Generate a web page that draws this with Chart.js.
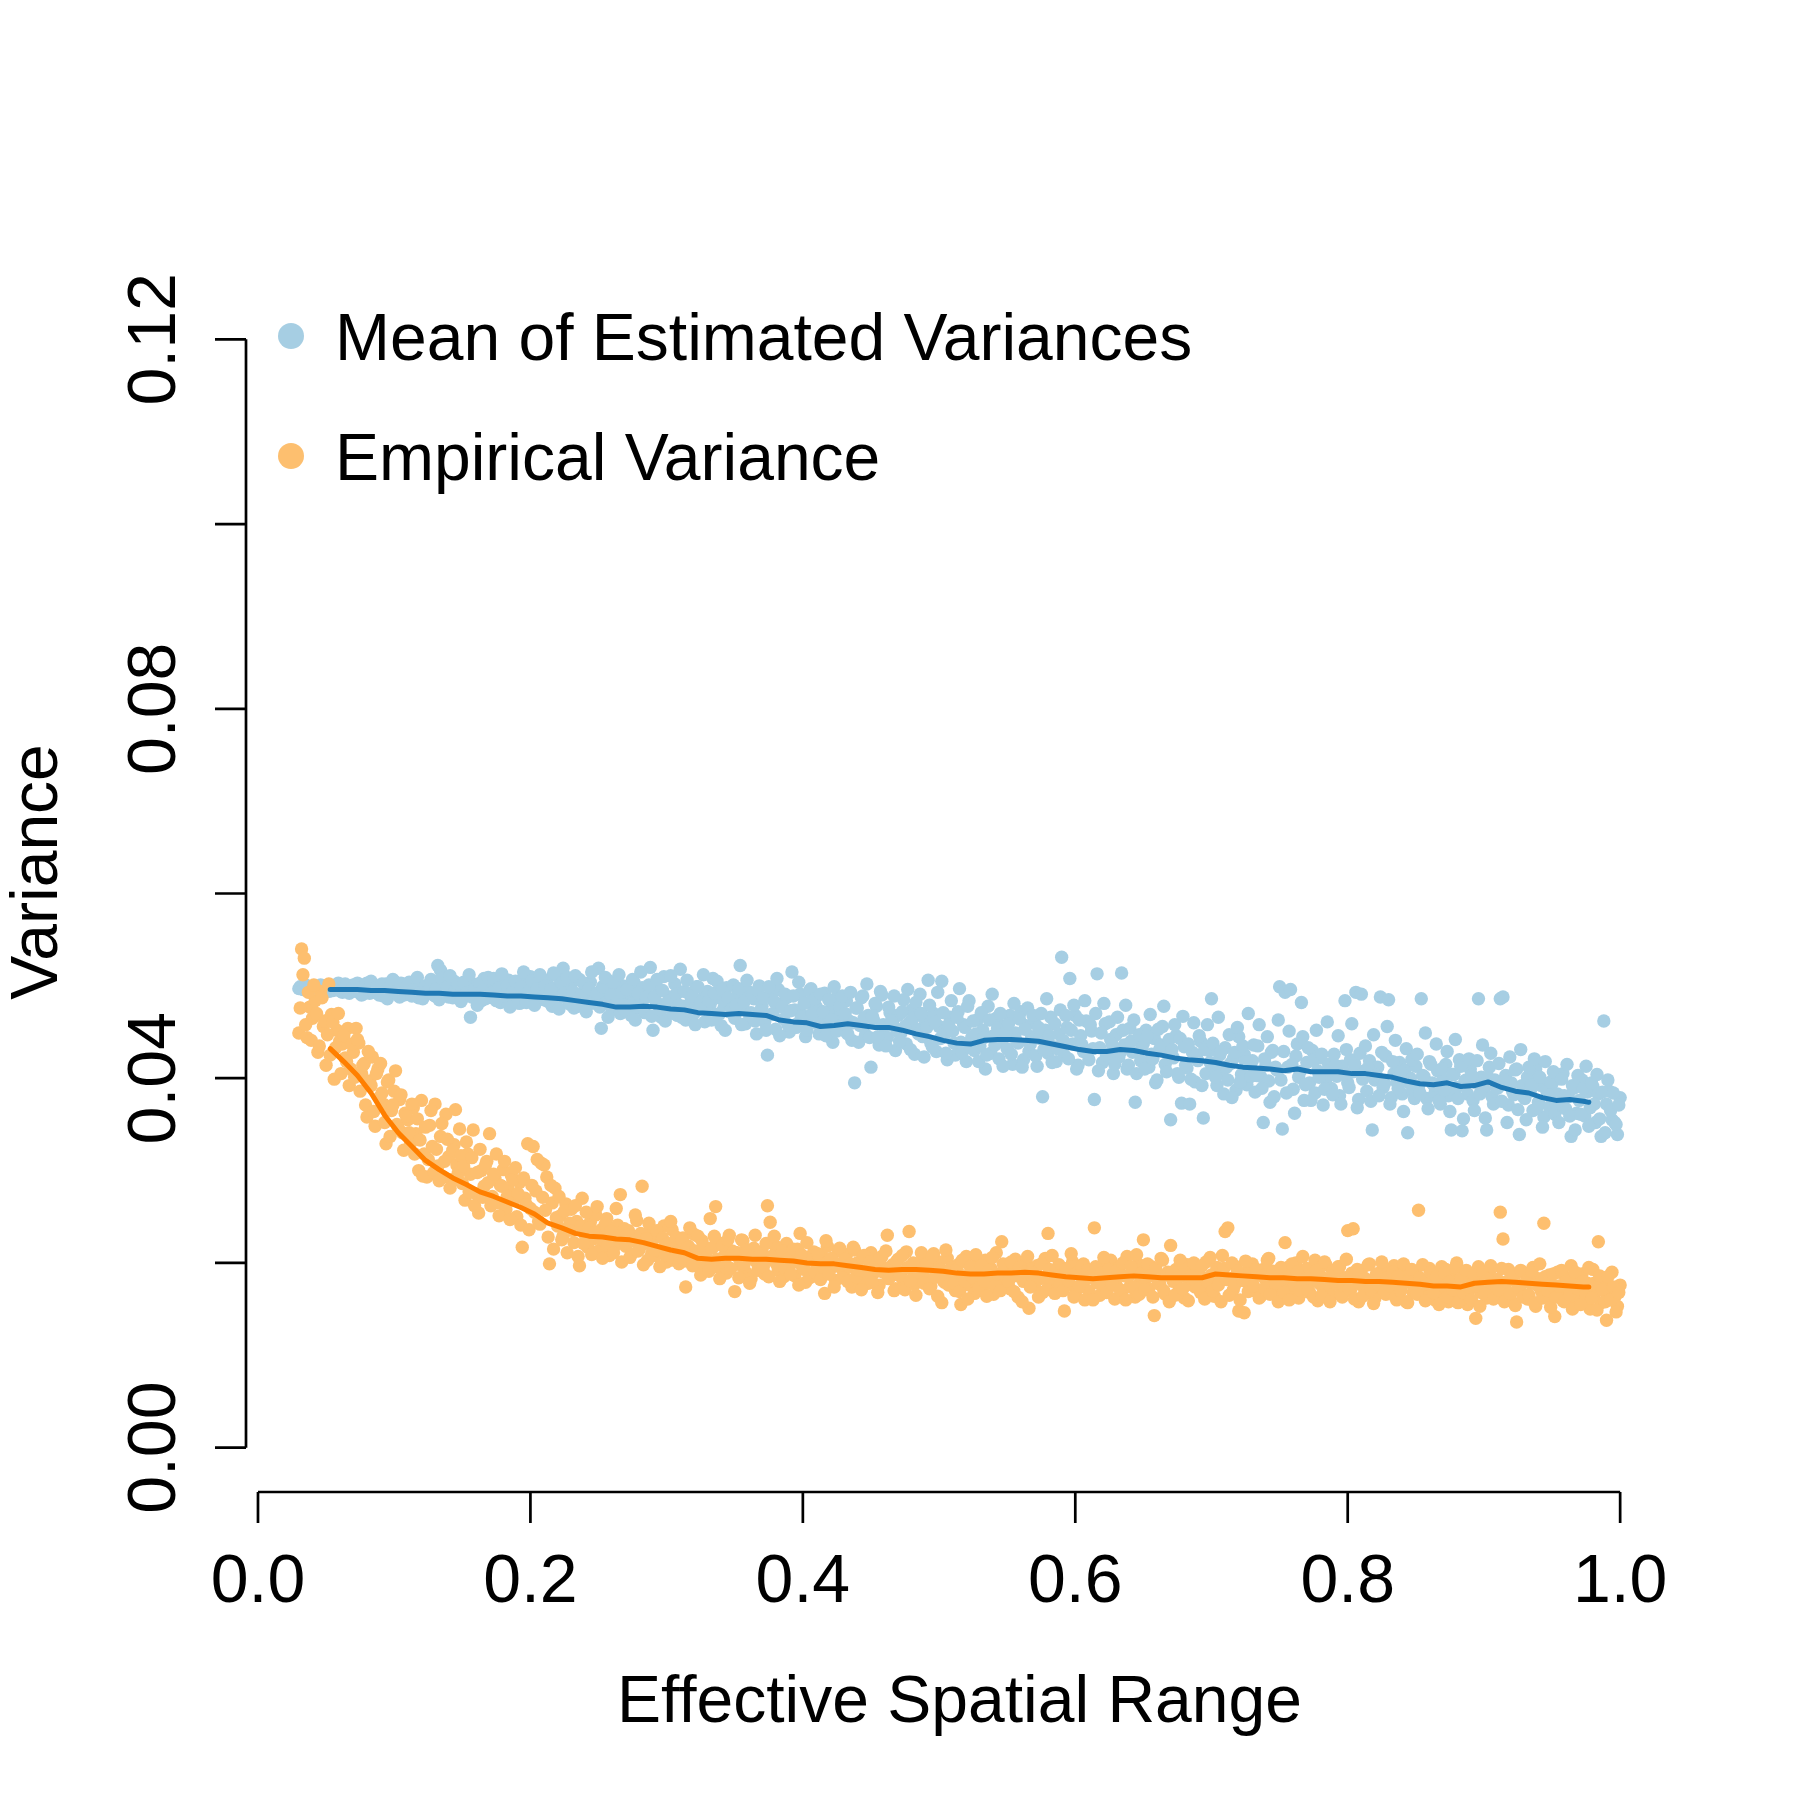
<!DOCTYPE html>
<html>
<head>
<meta charset="utf-8">
<script src="https://cdn.jsdelivr.net/npm/chart.js@4.4.1/dist/chart.umd.min.js"></script>
<style>
  html, body { margin: 0; padding: 0; background: #ffffff; }
  canvas { display: block; }
</style>
</head>
<body>
<canvas id="varianceChart" width="1800" height="1800"></canvas>
<script>
// Effective spatial range grid, even steps (in thousandths)
const xGrid = [
  30,32,34,36,38,40,42,44,46,48,
  50,52,54,56,58,60,62,64,66,68,
  70,72,74,76,78,80,82,84,86,88,
  90,92,94,96,98,100,102,104,106,108,
  110,112,114,116,118,120,122,124,126,128,
  130,132,134,136,138,140,142,144,146,148,
  150,152,154,156,158,160,162,164,166,168,
  170,172,174,176,178,180,182,184,186,188,
  190,192,194,196,198,200,202,204,206,208,
  210,212,214,216,218,220,222,224,226,228,
  230,232,234,236,238,240,242,244,246,248,
  250,252,254,256,258,260,262,264,266,268,
  270,272,274,276,278,280,282,284,286,288,
  290,292,294,296,298,300,302,304,306,308,
  310,312,314,316,318,320,322,324,326,328,
  330,332,334,336,338,340,342,344,346,348,
  350,352,354,356,358,360,362,364,366,368,
  370,372,374,376,378,380,382,384,386,388,
  390,392,394,396,398,400,402,404,406,408,
  410,412,414,416,418,420,422,424,426,428,
  430,432,434,436,438,440,442,444,446,448,
  450,452,454,456,458,460,462,464,466,468,
  470,472,474,476,478,480,482,484,486,488,
  490,492,494,496,498,500,502,504,506,508,
  510,512,514,516,518,520,522,524,526,528,
  530,532,534,536,538,540,542,544,546,548,
  550,552,554,556,558,560,562,564,566,568,
  570,572,574,576,578,580,582,584,586,588,
  590,592,594,596,598,600,602,604,606,608,
  610,612,614,616,618,620,622,624,626,628,
  630,632,634,636,638,640,642,644,646,648,
  650,652,654,656,658,660,662,664,666,668,
  670,672,674,676,678,680,682,684,686,688,
  690,692,694,696,698,700,702,704,706,708,
  710,712,714,716,718,720,722,724,726,728,
  730,732,734,736,738,740,742,744,746,748,
  750,752,754,756,758,760,762,764,766,768,
  770,772,774,776,778,780,782,784,786,788,
  790,792,794,796,798,800,802,804,806,808,
  810,812,814,816,818,820,822,824,826,828,
  830,832,834,836,838,840,842,844,846,848,
  850,852,854,856,858,860,862,864,866,868,
  870,872,874,876,878,880,882,884,886,888,
  890,892,894,896,898,900,902,904,906,908,
  910,912,914,916,918,920,922,924,926,928,
  930,932,934,936,938,940,942,944,946,948,
  950,952,954,956,958,960,962,964,966,968,
  970,972,974,976,978,980,982,984,986,988,
  990,992,994,996,998,1000
];

// Odd steps of the same grid (in thousandths)
const xGridOdd = [
  31,33,35,37,39,41,43,45,47,49,
  51,53,55,57,59,61,63,65,67,69,
  71,73,75,77,79,81,83,85,87,89,
  91,93,95,97,99,101,103,105,107,109,
  111,113,115,117,119,121,123,125,127,129,
  131,133,135,137,139,141,143,145,147,149,
  151,153,155,157,159,161,163,165,167,169,
  171,173,175,177,179,181,183,185,187,189,
  191,193,195,197,199,201,203,205,207,209,
  211,213,215,217,219,221,223,225,227,229,
  231,233,235,237,239,241,243,245,247,249,
  251,253,255,257,259,261,263,265,267,269,
  271,273,275,277,279,281,283,285,287,289,
  291,293,295,297,299,301,303,305,307,309,
  311,313,315,317,319,321,323,325,327,329,
  331,333,335,337,339,341,343,345,347,349,
  351,353,355,357,359,361,363,365,367,369,
  371,373,375,377,379,381,383,385,387,389,
  391,393,395,397,399,401,403,405,407,409,
  411,413,415,417,419,421,423,425,427,429,
  431,433,435,437,439,441,443,445,447,449,
  451,453,455,457,459,461,463,465,467,469,
  471,473,475,477,479,481,483,485,487,489,
  491,493,495,497,499,501,503,505,507,509,
  511,513,515,517,519,521,523,525,527,529,
  531,533,535,537,539,541,543,545,547,549,
  551,553,555,557,559,561,563,565,567,569,
  571,573,575,577,579,581,583,585,587,589,
  591,593,595,597,599,601,603,605,607,609,
  611,613,615,617,619,621,623,625,627,629,
  631,633,635,637,639,641,643,645,647,649,
  651,653,655,657,659,661,663,665,667,669,
  671,673,675,677,679,681,683,685,687,689,
  691,693,695,697,699,701,703,705,707,709,
  711,713,715,717,719,721,723,725,727,729,
  731,733,735,737,739,741,743,745,747,749,
  751,753,755,757,759,761,763,765,767,769,
  771,773,775,777,779,781,783,785,787,789,
  791,793,795,797,799,801,803,805,807,809,
  811,813,815,817,819,821,823,825,827,829,
  831,833,835,837,839,841,843,845,847,849,
  851,853,855,857,859,861,863,865,867,869,
  871,873,875,877,879,881,883,885,887,889,
  891,893,895,897,899,901,903,905,907,909,
  911,913,915,917,919,921,923,925,927,929,
  931,933,935,937,939,941,943,945,947,949,
  951,953,955,957,959,961,963,965,967,969,
  971,973,975,977,979,981,983,985,987,989,
  991,993,995,997,999
];

// Mean of estimated variances on xGrid (x 1e-4)
const meanEstVar = [
  497,499,496,500,498,495,499,497,501,496,
  498,494,500,497,496,499,493,502,495,498,
  501,494,497,490,499,503,492,496,500,494,
  498,489,502,495,493,505,497,488,499,494,
  491,500,496,506,487,495,499,492,497,503,
  489,522,517,494,500,488,496,505,491,497,
  486,499,494,466,502,490,497,484,508,493,
  500,487,495,504,482,497,491,506,489,494,
  499,481,503,492,487,510,495,484,500,490,
  485,506,493,478,498,511,488,519,495,483,
  502,476,491,507,486,497,479,504,489,481,
  519,454,492,483,505,474,496,486,470,500,
  481,493,468,504,487,476,498,471,489,520,
  452,484,497,466,510,479,488,473,502,468,
  518,478,463,492,483,470,499,475,486,461,
  494,480,508,469,487,457,476,498,472,483,
  465,490,522,477,459,494,471,486,448,500,
  478,461,425,489,470,453,496,480,464,487,
  450,515,474,459,491,468,445,482,497,461,
  477,448,466,492,455,473,439,486,460,470,
  452,484,462,441,395,476,457,489,447,468,
  412,463,478,436,490,455,444,471,459,430,
  468,449,485,437,460,474,426,453,491,445,
  462,506,438,470,429,456,505,447,420,466,
  451,425,472,439,458,418,484,444,430,463,
  435,452,410,478,427,446,465,421,441,457,
  432,468,415,449,438,472,420,457,429,445,
  461,413,443,380,452,427,466,434,418,448,
  531,425,455,508,437,468,414,446,429,462,
  420,451,377,513,433,417,459,426,442,405,
  447,423,514,436,410,454,428,374,441,419,
  438,452,412,426,443,398,431,456,415,427,
  355,422,446,401,373,434,411,372,428,396,
  419,440,357,405,430,486,412,392,425,408,
  433,398,416,421,387,445,404,426,393,411,
  419,385,435,402,352,414,397,428,380,409,
  499,345,493,412,496,388,424,401,482,376,
  417,395,430,384,408,422,371,399,415,389,
  426,402,381,413,484,395,420,407,493,377,
  491,408,386,419,344,398,412,488,390,424,
  485,379,405,396,417,383,409,341,400,386,
  413,391,486,402,378,418,395,384,408,372,
  399,415,381,344,404,390,420,343,397,383,
  410,376,395,486,401,388,344,412,380,398,
  389,486,488,403,371,395,382,410,339,392,
  378,401,386,365,410,374,392,358,387,369,
  394,361,383,371,405,367,380,337,389,362,
  376,398,359,385,368,391,352,383,337,462,
  372,386,355,352,339,379
];

// Mean of estimated variances on xGridOdd (x 1e-4)
const meanEstVarOdd = [
  499,496,501,498,494,500,497,499,495,500,
  497,501,495,499,503,494,498,500,492,497,
  495,503,498,491,501,496,505,493,498,490,
  502,494,486,499,507,492,496,503,490,498,
  504,489,497,509,493,486,500,495,507,490,
  497,485,508,492,499,511,487,496,502,483,
  504,492,512,488,497,479,503,495,486,509,
  492,508,484,498,513,489,500,477,494,505,
  486,499,515,482,494,505,479,497,512,488,
  500,483,496,514,487,475,503,492,509,480,
  494,511,478,489,503,472,497,515,484,492,
  477,499,509,466,490,504,481,512,493,474,
  496,479,507,463,492,515,476,488,501,467,
  488,507,474,495,462,483,511,470,491,479,
  466,494,506,473,489,458,499,482,512,476,
  484,463,492,505,470,496,452,487,474,501,
  479,497,458,483,506,468,490,462,495,473,
  487,452,499,469,483,508,446,477,491,458,
  473,489,455,504,466,481,452,495,470,486,
  459,491,472,446,485,463,499,451,478,489,
  470,448,493,460,476,439,487,465,502,444,
  467,481,445,494,458,435,477,462,489,451,
  440,472,456,496,431,465,482,448,470,423,
  455,479,434,461,493,443,471,427,458,484,
  438,466,497,428,455,478,433,462,448,418,
  471,444,425,463,491,436,454,470,413,450,
  459,426,481,440,464,412,453,476,437,468,
  424,455,470,431,486,446,417,459,432,474,
  441,468,421,452,479,410,463,436,484,427,
  458,432,470,408,449,481,425,461,437,415,
  466,428,452,479,414,440,463,405,447,433,
  410,446,469,421,395,453,436,478,407,442,
  431,458,405,443,467,414,437,399,460,424,
  446,392,431,458,417,438,401,466,429,383,
  412,447,379,428,455,396,435,418,470,402,
  436,403,458,389,421,445,374,430,412,463,
  398,429,384,451,415,362,437,407,445,393,
  433,376,419,452,401,426,388,461,409,382,
  414,446,372,405,431,390,459,416,368,427,
  399,435,411,375,447,403,381,428,394,456,
  372,418,441,389,407,364,432,395,420,378,
  426,384,403,449,367,415,393,437,376,410,
  387,429,364,404,442,378,413,356,398,421,
  403,365,419,383,436,357,401,427,372,390,
  416,375,398,352,423,386,409,366,431,380,
  355,412,393,421,368,401,347,418,382,396,
  407,373,352,399,381,415,359,392,344,403,
  361,389,413,348,395,372,404,356,385,341,
  398,365,384,350,371
];

// Empirical variance on xGrid (x 1e-4)
const empiricalVar = [
  449,540,530,444,477,465,484,428,494,456,
  414,502,469,399,452,440,437,422,454,410,
  428,454,438,405,416,358,397,423,348,410,
  416,372,329,398,365,386,350,377,341,362,
  355,330,368,340,300,376,318,293,349,326,
  372,305,337,293,361,315,290,328,306,345,
  286,268,318,296,344,275,254,300,283,310,
  340,272,292,265,284,301,258,279,295,268,
  250,287,217,270,329,259,326,278,245,308,
  306,293,199,265,281,240,251,229,264,238,
  258,222,245,197,270,231,217,244,226,252,
  213,236,224,248,208,230,219,241,274,226,
  218,235,209,228,246,215,283,221,203,237,
  225,208,231,214,240,201,219,236,205,222,
  212,227,174,218,203,231,209,196,224,213,
  200,248,217,261,195,221,207,189,230,213,
  169,211,198,224,190,207,183,216,201,195,
  212,188,262,244,203,218,192,209,185,221,
  197,210,186,215,232,194,179,206,188,212,
  199,184,207,167,218,193,202,181,213,195,
  187,209,196,174,214,200,183,206,191,178,
  211,189,201,176,207,194,230,185,198,172,
  204,190,180,212,234,193,177,199,186,208,
  183,196,175,210,188,201,157,179,205,192,
  184,170,198,155,186,207,176,191,167,200,
  189,173,203,181,194,166,211,185,223,178,
  196,172,188,204,163,192,180,199,151,186,
  175,197,183,168,205,232,179,190,171,198,
  186,148,194,177,201,166,188,174,199,183,
  170,192,238,179,165,197,184,172,203,187,
  176,195,168,186,207,174,191,163,199,181,
  225,184,172,196,143,188,177,203,166,190,
  219,180,193,170,186,162,198,177,189,174,
  192,168,184,201,175,187,164,195,180,208,
  234,238,183,171,196,148,185,146,190,176,
  199,170,187,164,193,181,205,173,189,167,
  186,174,222,195,169,183,200,162,188,177,
  194,168,181,203,159,186,172,198,176,165,
  189,177,196,163,184,235,170,237,181,158,
  192,174,167,199,180,162,188,173,195,166,
  183,171,197,160,185,176,192,157,179,168,
  188,257,172,181,163,194,175,160,186,170,
  178,193,158,183,169,200,161,176,187,155,
  172,184,140,196,168,179,162,190,174,165,
  182,255,226,170,193,159,185,136,176,167,
  189,161,178,195,153,183,170,243,164,187,
  176,142,190,168,159,184,171,197,155,180,
  166,188,161,178,150,193,169,223,157,182,
  138,171,190,163,153,176
];

// Empirical variance on xGridOdd (x 1e-4)
const empiricalVarOdd = [
  476,512,458,493,441,501,470,435,487,462,
  447,425,461,433,470,405,446,418,392,437,
  401,442,386,414,371,429,392,364,405,379,
  384,352,396,337,371,408,346,382,322,359,
  341,372,318,356,333,294,347,312,365,298,
  323,289,351,310,334,281,322,366,297,316,
  305,331,277,314,262,298,323,271,306,287,
  262,296,318,251,283,310,272,247,290,303,
  275,241,292,263,236,284,255,312,242,271,
  257,228,284,215,249,272,225,256,211,243,
  235,262,207,240,221,255,238,209,233,261,
  226,205,242,219,234,211,259,228,201,237,
  230,206,224,252,213,232,198,226,243,210,
  214,235,196,227,209,221,245,203,228,199,
  225,202,216,238,197,213,229,187,218,206,
  191,216,229,204,183,219,200,225,194,212,
  208,184,225,199,214,178,206,230,192,211,
  196,221,185,207,229,198,180,213,194,204,
  188,215,201,176,209,193,222,184,203,190,
  210,182,196,224,188,205,174,198,216,184,
  204,180,199,217,185,192,171,208,189,201,
  179,197,168,205,190,213,183,196,170,202,
  186,208,171,195,181,200,165,190,211,178,
  199,172,207,185,164,193,181,214,176,195,
  178,193,169,203,180,161,196,184,209,173,
  197,180,164,192,206,175,188,170,199,185,
  180,201,169,186,195,158,190,207,174,193,
  190,163,199,184,171,193,208,167,186,177,
  170,193,181,210,163,189,175,196,160,192,
  185,160,196,178,189,206,168,193,177,161,
  192,171,200,160,185,196,174,209,166,189,
  171,199,186,163,194,178,205,170,187,158,
  190,165,184,203,172,193,159,186,200,178,
  172,197,161,180,206,170,189,176,158,194,
  182,165,200,176,191,160,181,202,169,188,
  175,193,162,186,172,203,166,191,178,158,
  195,168,184,160,199,176,190,171,207,182,
  170,187,163,192,178,164,201,183,158,191,
  180,196,166,175,204,172,189,161,193,177,
  164,183,198,171,156,188,176,201,168,184,
  175,190,163,186,170,199,158,181,193,172,
  166,184,198,159,177,190,168,185,155,196,
  189,163,180,171,195,157,183,168,192,174,
  160,187,175,153,191,166,182,197,161,178,
  171,194,158,180,167,188,154,174,192,163,
  180,165,191,157,176,199,162,185,170,152,
  188,163,175,192,158,181,166,150,190,172,
  155,180,167,195,162,178,149,186,171,158,
  185,160,174,147,168
];

// Smoothed curves (x in thousandths, y x 1e-4)
const smoothX = [
  53,63,73,83,93,103,113,123,133,143,
  153,163,173,183,193,203,213,223,233,243,
  253,263,273,283,293,303,313,323,333,343,
  353,363,373,383,393,403,413,423,433,443,
  453,463,473,483,493,503,513,523,533,543,
  553,563,573,583,593,603,613,623,633,643,
  653,663,673,683,693,703,713,723,733,743,
  753,763,773,783,793,803,813,823,833,843,
  853,863,873,883,893,903,913,923,933,943,
  953,963,973,977
];
const meanEstSmooth = [
  496,496,496,495,495,494,493,492,492,491,
  491,491,490,489,489,488,487,486,484,482,
  480,477,477,478,477,475,474,471,470,469,
  470,469,468,463,461,460,456,457,459,457,
  455,455,452,448,445,441,438,437,441,442,
  442,441,440,437,434,431,429,429,431,430,
  427,425,422,420,419,417,414,412,411,410,
  408,410,407,407,407,405,405,403,401,397,
  394,393,395,391,392,396,390,386,384,379,
  376,377,375,374
];
const empiricalSmooth = [
  432,418,403,384,360,341,326,311,301,292,
  285,277,272,266,260,253,243,238,232,229,
  228,226,225,222,218,214,211,205,204,205,
  205,204,204,203,202,200,199,199,197,195,
  193,192,193,193,192,191,189,188,188,189,
  189,190,189,187,185,184,183,184,185,186,
  185,184,184,184,184,188,187,186,185,184,
  184,183,183,182,181,181,180,180,179,178,
  177,175,175,174,178,179,180,179,178,177,
  176,175,174,174
];

// Axis ticks
const xTicks = [0, 0.2, 0.4, 0.6, 0.8, 1.0];
const xTickLabels = ['0.0', '0.2', '0.4', '0.6', '0.8', '1.0'];
const yTicks = [0, 0.02, 0.04, 0.06, 0.08, 0.10, 0.12];
const yTickLabels = ['0.00', '', '0.04', '', '0.08', '', '0.12'];

const seriesNames = ['Mean of Estimated Variances', 'Empirical Variance'];

// Colours (RColorBrewer Paired)
const LIGHT_BLUE = '#A6CEE3';
const DARK_BLUE = '#1F78B4';
const LIGHT_ORANGE = '#FDBF6F';
const DARK_ORANGE = '#FF7F00';

const FONT = "'Liberation Sans', Arial, Helvetica, sans-serif";

function toPoints(xs, ys) {
    const n = Math.min(xs.length, ys.length);
    const pts = [];
    for (let i = 0; i < n; i++) {
        pts.push({ x: xs[i] / 1000, y: ys[i] / 10000 });
    }
    return pts;
}

// R-style detached axes, labels and legend
const rStylePlugin = {
    id: 'rStyle',
    afterDraw(chart) {
        const ctx = chart.ctx;
        const xs = chart.scales.x;
        const ys = chart.scales.y;
        const area = chart.chartArea;
        const tick = 31;

        ctx.save();
        ctx.strokeStyle = '#000000';
        ctx.fillStyle = '#000000';
        ctx.lineWidth = 2.7;
        ctx.lineCap = 'butt';

        // y axis
        const yTop = ys.getPixelForValue(yTicks[yTicks.length - 1]);
        const yBot = ys.getPixelForValue(yTicks[0]);
        ctx.beginPath();
        ctx.moveTo(area.left, yBot);
        ctx.lineTo(area.left, yTop);
        yTicks.forEach(v => {
            const py = ys.getPixelForValue(v);
            ctx.moveTo(area.left, py);
            ctx.lineTo(area.left - tick, py);
        });
        ctx.stroke();

        // x axis
        const xL = xs.getPixelForValue(xTicks[0]);
        const xR = xs.getPixelForValue(xTicks[xTicks.length - 1]);
        ctx.beginPath();
        ctx.moveTo(xL, area.bottom);
        ctx.lineTo(xR, area.bottom);
        xTicks.forEach(v => {
            const px = xs.getPixelForValue(v);
            ctx.moveTo(px, area.bottom);
            ctx.lineTo(px, area.bottom + tick);
        });
        ctx.stroke();

        // tick labels
        ctx.font = '68px ' + FONT;
        ctx.textAlign = 'center';
        ctx.textBaseline = 'alphabetic';
        xTicks.forEach((v, i) => {
            ctx.fillText(xTickLabels[i], xs.getPixelForValue(v), area.bottom + 110);
        });
        yTicks.forEach((v, i) => {
            if (!yTickLabels[i]) return;
            ctx.save();
            ctx.translate(area.left - 71, ys.getPixelForValue(v));
            ctx.rotate(-Math.PI / 2);
            ctx.fillText(yTickLabels[i], 0, 0);
            ctx.restore();
        });

        // axis titles
        ctx.font = '66px ' + FONT;
        ctx.fillText('Effective Spatial Range', (area.left + area.right) / 2, area.bottom + 230);
        ctx.save();
        ctx.translate(57, 872);
        ctx.rotate(-Math.PI / 2);
        ctx.fillText('Variance', 0, 0);
        ctx.restore();

        // legend
        const legendColors = [LIGHT_BLUE, LIGHT_ORANGE];
        const legendY = [336, 456];
        ctx.textAlign = 'left';
        seriesNames.forEach((name, i) => {
            ctx.fillStyle = legendColors[i];
            ctx.beginPath();
            ctx.arc(291, legendY[i], 13, 0, Math.PI * 2);
            ctx.fill();
            ctx.fillStyle = '#000000';
            ctx.fillText(name, 335, legendY[i] + 24);
        });

        ctx.restore();
    }
};

const ctx = document.getElementById('varianceChart').getContext('2d');
const chart = new Chart(ctx, {
    type: 'scatter',
    data: {
        datasets: [
            {
                label: seriesNames[0] + ' (smoothed)',
                data: toPoints(smoothX, meanEstSmooth),
                showLine: true,
                borderColor: DARK_BLUE,
                borderWidth: 5,
                borderCapStyle: 'round',
                borderJoinStyle: 'round',
                pointRadius: 0,
                order: 0
            },
            {
                label: seriesNames[1] + ' (smoothed)',
                data: toPoints(smoothX, empiricalSmooth),
                showLine: true,
                borderColor: DARK_ORANGE,
                borderWidth: 5,
                borderCapStyle: 'round',
                borderJoinStyle: 'round',
                pointRadius: 0,
                order: 0
            },
            {
                label: seriesNames[1],
                data: toPoints(xGrid, empiricalVar).concat(toPoints(xGridOdd, empiricalVarOdd)),
                backgroundColor: LIGHT_ORANGE,
                borderWidth: 0,
                pointRadius: 6.7,
                order: 1
            },
            {
                label: seriesNames[0],
                data: toPoints(xGrid, meanEstVar).concat(toPoints(xGridOdd, meanEstVarOdd)),
                backgroundColor: LIGHT_BLUE,
                borderWidth: 0,
                pointRadius: 6.7,
                order: 2
            }
        ]
    },
    options: {
        responsive: false,
        animation: false,
        devicePixelRatio: 1,
        layout: {
            padding: { left: 246, top: 295, right: 127, bottom: 308 }
        },
        plugins: {
            legend: { display: false },
            title: { display: false },
            tooltip: { enabled: false }
        },
        scales: {
            x: { type: 'linear', min: -0.0088, max: 1.0388, display: false },
            y: { type: 'linear', min: -0.0048, max: 0.1248, display: false }
        }
    },
    plugins: [rStylePlugin]
});
</script>
</body>
</html>
